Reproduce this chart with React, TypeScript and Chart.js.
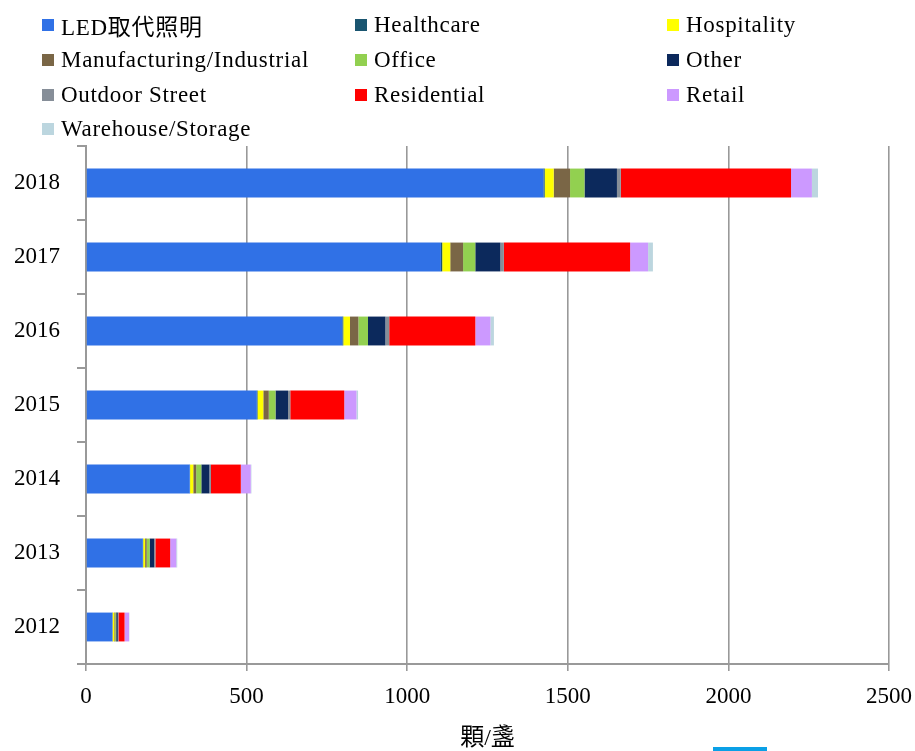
import React, { useEffect, useRef } from 'react';
import { Chart, registerables } from 'chart.js';

Chart.register(...registerables);

const years = ['2018', '2017', '2016', '2015', '2014', '2013', '2012'];
const seriesNames = [
  'LED取代照明',
  'Healthcare',
  'Hospitality',
  'Manufacturing/Industrial',
  'Office',
  'Other',
  'Outdoor Street',
  'Residential',
  'Retail',
  'Warehouse/Storage',
];
const ledRetrofit = [1424, 1105, 798, 532, 323, 177, 82];
const healthcare = [4, 4, 3, 2, 1, 1, 1];
const hospitality = [28, 25, 21, 18, 10, 6, 5];
const manufacturing = [51, 40, 26, 17, 9, 5, 3];
const office = [45, 38, 30, 21, 16, 9, 3];
const other = [101, 78, 54, 39, 25, 14, 5];
const outdoorStreet = [12, 11, 12, 7, 5, 4, 2];
const residential = [530, 393, 268, 168, 93, 46, 19];
const retail = [65, 56, 47, 38, 31, 19, 14];
const warehouse = [19, 15, 11, 5, 2, 3, 1];
const xTickValues = [0, 500, 1000, 1500, 2000, 2500];
const xTitle = '顆/盞';

const seriesValues = [
  ledRetrofit,
  healthcare,
  hospitality,
  manufacturing,
  office,
  other,
  outdoorStreet,
  residential,
  retail,
  warehouse,
];
const seriesColors = [
  '#3071E6',
  '#1A5570',
  '#FFFF00',
  '#7A6646',
  '#92D050',
  '#0C295C',
  '#868E98',
  '#FF0000',
  '#CC99FF',
  '#BCD6DF',
];

const FONT = '"Liberation Serif", "Noto Sans CJK TC", serif';
const GRID = '#999999';

function Legend() {
  const colX = [42, 355, 667];
  const rowY = [24.5, 59.5, 94.5, 129];
  return (
    <>
      {seriesNames.map((name, i) => {
        const col = i % 3;
        const row = Math.floor(i / 3);
        return (
          <div
            key={name}
            style={{
              position: 'absolute',
              left: colX[col],
              top: rowY[row] - 14,
              height: 28,
              display: 'flex',
              alignItems: 'center',
              whiteSpace: 'nowrap',
              fontFamily: FONT,
              fontSize: 23,
              letterSpacing: 0.7,
              color: '#000',
            }}
          >
            <span
              style={{
                display: 'inline-block',
                width: 12,
                height: 12,
                background: seriesColors[i],
                marginRight: 7,
              }}
            />
            <span>{name}</span>
          </div>
        );
      })}
    </>
  );
}

export default function App() {
  const canvasRef = useRef<HTMLCanvasElement | null>(null);

  useEffect(() => {
    const canvas = canvasRef.current;
    if (!canvas) return;
    const chart = new Chart(canvas, {
      type: 'bar',
      data: {
        labels: years,
        datasets: seriesNames.map((name, i) => ({
          label: name,
          data: seriesValues[i],
          backgroundColor: seriesColors[i],
          borderWidth: 0,
          categoryPercentage: 1,
          barPercentage: 0.39,
        })),
      },
      options: {
        indexAxis: 'y',
        animation: false,
        responsive: false,
        maintainAspectRatio: false,
        layout: { padding: { top: 146, right: 26, bottom: 0, left: 0 } },
        plugins: {
          legend: { display: false },
          tooltip: { enabled: false },
        },
        scales: {
          x: {
            stacked: true,
            min: xTickValues[0],
            max: xTickValues[xTickValues.length - 1],
            afterBuildTicks: (scale: any) => {
              scale.ticks = xTickValues.map((v) => ({ value: v }));
            },
            afterFit: (scale: any) => {
              scale.height = 87;
              scale.paddingLeft = 0;
              scale.paddingRight = 0;
            },
            grid: {
              color: GRID,
              lineWidth: 1.6,
              drawTicks: true,
              tickLength: 7,
            },
            border: { display: true, color: GRID, width: 2 },
            ticks: {
              color: '#000',
              padding: 12,
              font: { family: FONT, size: 23 },
              maxRotation: 0,
              callback: (v: any) => String(v),
            },
            title: {
              display: true,
              text: xTitle,
              color: '#000',
              font: { family: FONT, size: 24, lineHeight: 1 },
              padding: { top: 0, bottom: 0 },
            },
          },
          y: {
            stacked: true,
            afterFit: (scale: any) => {
              scale.width = 86;
              scale.paddingTop = 0;
              scale.paddingBottom = 0;
            },
            grid: {
              offset: true,
              drawOnChartArea: false,
              drawTicks: true,
              tickLength: 9,
              color: GRID,
              lineWidth: 2,
            },
            border: { display: true, color: GRID, width: 2 },
            ticks: {
              color: '#000',
              padding: 17,
              font: { family: FONT, size: 23 },
            },
          },
        },
      },
    });
    return () => chart.destroy();
  }, []);

  return (
    <div
      style={{
        position: 'absolute',
        left: 0,
        top: 0,
        width: 915,
        height: 751,
        overflow: 'hidden',
        background: '#fff',
      }}
    >
      <canvas
        ref={canvasRef}
        width={915}
        height={751}
        style={{ position: 'absolute', left: 0, top: 0, width: 915, height: 751 }}
      />
      <Legend />
      <div
        style={{
          position: 'absolute',
          left: 713,
          top: 747,
          width: 54,
          height: 4,
          background: '#0AA0E6',
        }}
      />
    </div>
  );
}
